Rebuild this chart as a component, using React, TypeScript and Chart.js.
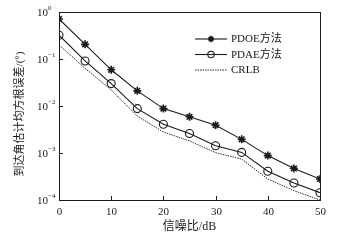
import React, { useEffect, useRef } from "react";
import { Chart, registerables } from "chart.js";

Chart.register(...registerables);

const snr = [0, 5, 10, 15, 20, 25, 30, 35, 40, 45, 50];
const pdoe = [0.71, 0.205, 0.059, 0.021, 0.0088, 0.0059, 0.0039, 0.00195, 0.00088, 0.00047, 0.00028];
const pdae = [0.32, 0.091, 0.03, 0.0088, 0.0041, 0.0026, 0.00143, 0.00103, 0.00041, 0.00023, 0.000143];
const crlb = [0.2, 0.063, 0.022, 0.0061, 0.0028, 0.0018, 0.00102, 0.00074, 0.00028, 0.000158, 0.0001];
const seriesNames = ["PDOE方法", "PDAE方法", "CRLB"];
const xTicks = [0, 10, 20, 30, 40, 50];
const yTicks = [1, 0.1, 0.01, 0.001, 0.0001];
const yExponents = ["0", "−1", "−2", "−3", "−4"];
const xTitle = "信噪比/dB";
const yTitle = "到达角估计均方根误差/(°)";

const INK = "#1a1a1a";
const SERIF = '"Liberation Serif", "Noto Sans CJK SC", serif';

function drawMarker(ctx: CanvasRenderingContext2D, style: string, r: number, x: number, y: number) {
  ctx.beginPath();
  if (style === "star") {
    for (let k = 0; k < 4; k++) {
      const a = (k * Math.PI) / 4;
      ctx.moveTo(x + Math.cos(a) * r, y + Math.sin(a) * r);
      ctx.lineTo(x - Math.cos(a) * r, y - Math.sin(a) * r);
    }
    ctx.stroke();
  } else if (style === "circle") {
    ctx.arc(x, y, r, 0, Math.PI * 2);
    ctx.stroke();
  }
}

const axisPlugin = {
  id: "axisPlugin",
  afterDraw(chart: any) {
    const { ctx, chartArea } = chart;
    const xs = chart.scales.x;
    const ys = chart.scales.y;
    const { left, right, top, bottom } = chartArea;
    ctx.save();
    ctx.strokeStyle = INK;
    ctx.fillStyle = INK;
    ctx.lineWidth = 1;
    ctx.strokeRect(Math.round(left) + 0.5, Math.round(top) + 0.5, Math.round(right - left), Math.round(bottom - top));
    ctx.font = "11px " + SERIF;
    ctx.textAlign = "center";
    ctx.textBaseline = "middle";
    xTicks.forEach((v) => {
      const px = Math.round(xs.getPixelForValue(v)) + 0.5;
      ctx.beginPath();
      ctx.moveTo(px, bottom);
      ctx.lineTo(px, bottom - 4);
      ctx.stroke();
      ctx.fillText(String(v), px, bottom + 12);
    });
    yTicks.forEach((v, i) => {
      const py = Math.round(ys.getPixelForValue(v)) + 0.5;
      ctx.beginPath();
      ctx.moveTo(left, py);
      ctx.lineTo(left + 4, py);
      ctx.stroke();
      ctx.font = "11px " + SERIF;
      ctx.textAlign = "right";
      ctx.textBaseline = "middle";
      ctx.fillText("10", left - 11, py + 1);
      ctx.font = "7px " + SERIF;
      ctx.textAlign = "left";
      ctx.fillText(yExponents[i], left - 11, py - 4);
    });
    ctx.font = "12px " + SERIF;
    ctx.textAlign = "center";
    ctx.textBaseline = "middle";
    ctx.fillText(xTitle, (left + right) / 2, bottom + 27);
    ctx.save();
    ctx.translate(20, (top + bottom) / 2 + 8);
    ctx.rotate(-Math.PI / 2);
    ctx.font = "11px " + SERIF;
    ctx.fillText(yTitle, 0, 0);
    ctx.restore();
    const rows = [39, 54.5, 70];
    const lx0 = 195, lx1 = 227;
    chart.data.datasets.forEach((ds: any, i: number) => {
      const y = rows[i];
      ctx.save();
      ctx.strokeStyle = ds.borderColor;
      ctx.lineWidth = ds.borderWidth;
      ctx.setLineDash(ds.borderDash || []);
      ctx.beginPath();
      ctx.moveTo(lx0, y);
      ctx.lineTo(lx1, y);
      ctx.stroke();
      ctx.restore();
      if (ds.pointRadius > 0) {
        ctx.save();
        ctx.strokeStyle = ds.pointBorderColor;
        ctx.lineWidth = ds.pointBorderWidth;
        drawMarker(ctx, ds.pointStyle, ds.pointRadius - 0.8, (lx0 + lx1) / 2, y);
        ctx.restore();
      }
      ctx.font = "11px " + SERIF;
      ctx.textAlign = "left";
      ctx.textBaseline = "middle";
      ctx.fillStyle = INK;
      ctx.fillText(seriesNames[i], 231, y + 0.5);
    });
    ctx.restore();
  },
};

export default function App() {
  const ref = useRef<HTMLCanvasElement | null>(null);
  useEffect(() => {
    if (!ref.current) return;
    const mk = (arr: number[]) => snr.map((x, i) => ({ x, y: arr[i] }));
    const chart = new Chart(ref.current, {
      type: "line",
      data: {
        datasets: [
          {
            label: seriesNames[0],
            data: mk(pdoe),
            borderColor: INK,
            borderWidth: 1.1,
            pointStyle: "star",
            pointRadius: 4,
            pointBorderWidth: 1.6,
            pointBorderColor: INK,
            pointBackgroundColor: INK,
          },
          {
            label: seriesNames[1],
            data: mk(pdae),
            borderColor: INK,
            borderWidth: 1.1,
            pointStyle: "circle",
            pointRadius: 4,
            pointBorderWidth: 1.1,
            pointBorderColor: INK,
            pointBackgroundColor: "rgba(0,0,0,0)",
          },
          {
            label: seriesNames[2],
            data: mk(crlb),
            borderColor: INK,
            borderWidth: 0.9,
            borderDash: [1.5, 1],
            pointRadius: 0,
            pointBorderWidth: 0,
            pointBorderColor: INK,
            pointBackgroundColor: INK,
          },
        ],
      } as any,
      options: {
        responsive: false,
        animation: false,
        events: [],
        layout: { padding: { left: 59, right: 20, top: 12, bottom: 43 } },
        scales: {
          x: { type: "linear", min: 0, max: 50, display: false },
          y: { type: "logarithmic", min: 0.0001, max: 1, display: false },
        },
        plugins: { legend: { display: false }, tooltip: { enabled: false } },
      } as any,
      plugins: [axisPlugin],
    });
    return () => chart.destroy();
  }, []);
  return (
    <div style={{ position: "fixed", left: 0, top: 0, width: 340, height: 243, background: "#fff" }}>
      <canvas ref={ref} width={340} height={243} style={{ display: "block" }} />
    </div>
  );
}
